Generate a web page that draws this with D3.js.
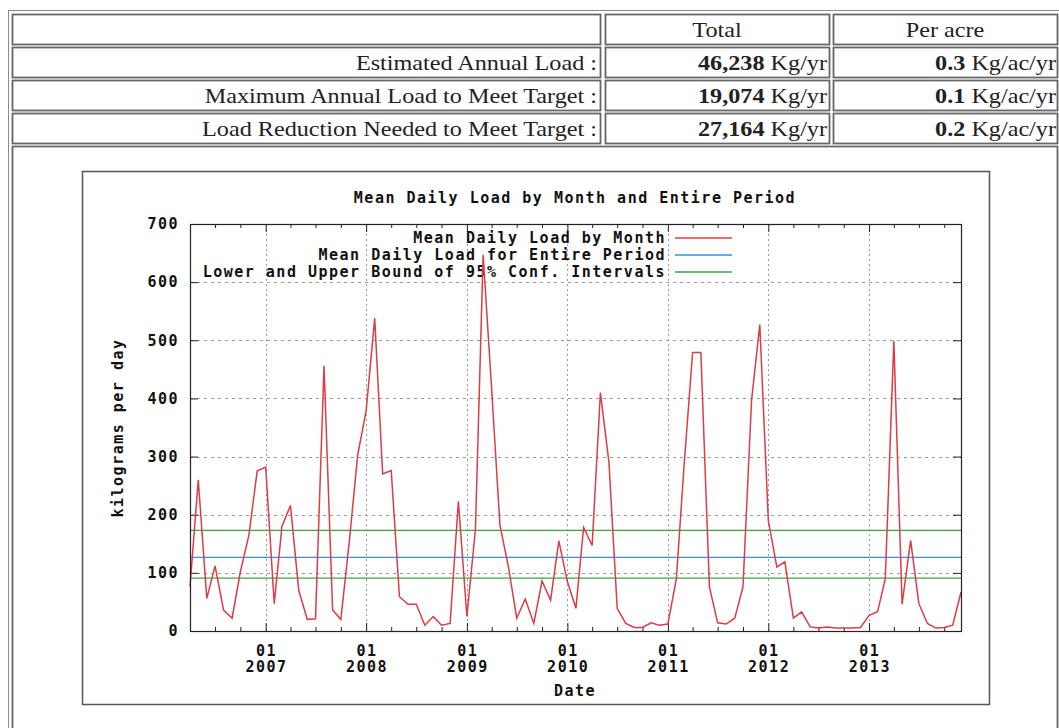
<!DOCTYPE html>
<html>
<head>
<meta charset="utf-8">
<script src="https://cdn.jsdelivr.net/npm/d3@7"></script>
<style>
  body { margin: 0; background: #fff; }
  svg { display: block; }
  .serif { font-family: "Liberation Serif", "Times New Roman", serif; font-size: 22px; fill: #222; }
  .gp { font-family: "DejaVu Sans Mono", monospace; font-weight: bold; font-size: 15px; letter-spacing: 1.5px; fill: #111; }
</style>
</head>
<body>
<svg id="page" width="1059" height="728"></svg>
<script>
// ---- Summary table ----
const headerCols = ["Total", "Per acre"];
const rowLabels = [
  "Estimated Annual Load :",
  "Maximum Annual Load to Meet Target :",
  "Load Reduction Needed to Meet Target :"
];
const totalValues = ["46,238", "19,074", "27,164"];
const totalUnit = "Kg/yr";
const perAcreValues = ["0.3", "0.1", "0.2"];
const perAcreUnit = "Kg/ac/yr";

// ---- Chart data: mean daily load (kg/day), monthly from April 2006 ----
const firstMonth = "2006-04";
const meanDailyLoad = [
  76, 260, 56, 112, 36, 22, 102, 165, 275,            // Apr-Dec 2006
  282, 47, 180, 216, 70, 20, 21, 456, 36, 20, 155, 302, // 2007
  379, 538, 270, 276, 59, 46, 46, 10, 25, 10, 13, 223,  // 2008
  25, 175, 647, 415, 182, 110, 22, 55, 13, 86, 53, 155, // 2009
  85, 39, 178, 147, 410, 290, 39, 13, 6, 6, 14, 10,     // 2010
  12, 90, 285, 479, 479, 76, 14, 12, 22, 76, 396, 527,  // 2011
  190, 110, 119, 22, 33, 7, 5, 7, 5, 5, 5, 6,           // 2012
  27, 33, 90, 499, 46, 156, 47, 13, 5, 6, 10, 67        // 2013
];
const periodMean = 126.7;
const confLower = 91;
const confUpper = 173;
const yTickValues = [0, 100, 200, 300, 400, 500, 600, 700];
const yearTicks = ["2007", "2008", "2009", "2010", "2011", "2012", "2013"];
const legendLabels = [
  "Mean Daily Load by Month",
  "Mean Daily Load for Entire Period",
  "Lower and Upper Bound of 95% Conf. Intervals"
];
const seriesColors = ["#dc3c46", "#3a8fd6", "#3aa83a"];
const chartTitle = "Mean Daily Load by Month and Entire Period";
const yTitle = "kilograms per day";
const xTitle = "Date";

const svg = d3.select("#page");

// ---- table frame ----
const cols = [[12, 600], [605, 829], [833, 1057]];
const rows = [[14, 44], [47, 77], [80, 110], [113, 143]];
const textStretch = 1.1;

svg.append("rect").attr("x", 8.5).attr("y", 10.5).attr("width", 1060).attr("height", 730)
  .attr("fill", "none").attr("stroke", "#8a8a8a").attr("stroke-width", 1);

const cellG = svg.append("g");
rows.forEach(r => cols.forEach(c => {
  cellG.append("rect").attr("x", c[0] + 0.5).attr("y", r[0] + 0.5)
    .attr("width", c[1] - c[0]).attr("height", r[1] - r[0])
    .attr("fill", "#fff").attr("stroke", "#666").attr("stroke-width", 1.8);
}));
// chart cell spanning all columns
cellG.append("rect").attr("x", 12.5).attr("y", 146.5).attr("width", 1045).attr("height", 600)
  .attr("fill", "#fff").attr("stroke", "#666").attr("stroke-width", 1.8);

const rowMid = r => (r[0] + r[1]) / 2;

function cellText(xPos, yPos, anchor) {
  return svg.append("g")
    .attr("transform", `translate(${xPos},${yPos}) scale(${textStretch},1)`)
    .append("text").attr("class", "serif").attr("dy", "0.35em").attr("text-anchor", anchor);
}

headerCols.forEach((h, i) => {
  cellText((cols[i + 1][0] + cols[i + 1][1]) / 2, rowMid(rows[0]), "middle").text(h);
});

rowLabels.forEach((lab, i) => {
  const r = rows[i + 1];
  cellText(cols[0][1] - 3, rowMid(r), "end").text(lab);
  const t1 = cellText(cols[1][1] - 2, rowMid(r), "end");
  t1.append("tspan").attr("font-weight", "bold").text(totalValues[i]);
  t1.append("tspan").text(" " + totalUnit);
  const t2 = cellText(cols[2][1] - 1, rowMid(r), "end");
  t2.append("tspan").attr("font-weight", "bold").text(perAcreValues[i]);
  t2.append("tspan").text(" " + perAcreUnit);
});

// ---- chart box ----
svg.append("rect").attr("x", 82.5).attr("y", 171.5).attr("width", 907).attr("height", 533)
  .attr("fill", "#fff").attr("stroke", "#555").attr("stroke-width", 1.5);

const plot = { left: 190, right: 961, top: 224, bottom: 631 };
const parseMonth = d3.timeParse("%Y-%m");
const start = parseMonth(firstMonth);
const points = meanDailyLoad.map((v, i) => ({ date: d3.timeMonth.offset(start, i), value: v }));

const x = d3.scaleTime()
  .domain([points[0].date, points[points.length - 1].date])
  .range([plot.left, plot.right]);
const y = d3.scaleLinear().domain([0, 700]).range([plot.bottom, plot.top]);

const g = svg.append("g");

// grid
const yearDates = yearTicks.map(yr => parseMonth(yr + "-01"));
g.append("g").selectAll("line").data(yTickValues.filter(v => v > 0 && v < 700)).join("line")
  .attr("x1", plot.left).attr("x2", plot.right)
  .attr("y1", d => Math.round(y(d)) + 0.5).attr("y2", d => Math.round(y(d)) + 0.5)
  .attr("stroke", "#9a9a9a").attr("stroke-width", 1).attr("stroke-dasharray", "3,4");
g.append("g").selectAll("line").data(yearDates).join("line")
  .attr("x1", d => Math.round(x(d)) + 0.5).attr("x2", d => Math.round(x(d)) + 0.5)
  .attr("y1", plot.top).attr("y2", plot.bottom)
  .attr("stroke", "#9a9a9a").attr("stroke-width", 1).attr("stroke-dasharray", "2,3");

// axes (ticks drawn inward, mirrored on opposite sides)
const quarterDates = d3.timeMonth.every(3).range(points[0].date, points[points.length - 1].date)
  .filter(d => d.getMonth() !== 0);
function tickAxis(axis, transform) {
  const a = g.append("g").attr("transform", transform).call(axis);
  a.select(".domain").remove();
  a.selectAll("line").attr("stroke", "#222");
  a.selectAll("text").remove();
  return a;
}
tickAxis(d3.axisBottom(x).tickValues(yearDates).tickSize(-8), `translate(0,${plot.bottom})`);
tickAxis(d3.axisBottom(x).tickValues(quarterDates).tickSize(-4), `translate(0,${plot.bottom})`);
tickAxis(d3.axisTop(x).tickValues(yearDates).tickSize(-8), `translate(0,${plot.top})`);
tickAxis(d3.axisTop(x).tickValues(quarterDates).tickSize(-4), `translate(0,${plot.top})`);
tickAxis(d3.axisLeft(y).tickValues(yTickValues).tickSize(-8), `translate(${plot.left},0)`);
tickAxis(d3.axisRight(y).tickValues(yTickValues).tickSize(-8), `translate(${plot.right},0)`);

// y tick labels
g.append("g").selectAll("text").data(yTickValues).join("text")
  .attr("class", "gp").attr("x", plot.left - 11).attr("y", d => y(d)).attr("dy", "0.35em")
  .attr("text-anchor", "end").text(d => d);

// x tick labels (two lines)
const xl = g.append("g").selectAll("text").data(yearDates).join("text")
  .attr("class", "gp").attr("text-anchor", "middle")
  .attr("transform", d => `translate(${x(d) + 0.8},0)`);
xl.append("tspan").attr("x", 0).attr("y", 656).text(d3.timeFormat("%m"));
xl.append("tspan").attr("x", 0).attr("y", 672).text(d3.timeFormat("%Y"));

// titles
svg.append("text").attr("class", "gp").attr("x", 575).attr("y", 203)
  .attr("text-anchor", "middle").text(chartTitle);
svg.append("text").attr("class", "gp").attr("x", 575).attr("y", 696)
  .attr("text-anchor", "middle").text(xTitle);
svg.append("text").attr("class", "gp")
  .attr("transform", "translate(123,428) rotate(-90)")
  .attr("text-anchor", "middle").text(yTitle);

// reference lines
const hl = [
  { v: periodMean, c: seriesColors[1] },
  { v: confLower, c: seriesColors[2] },
  { v: confUpper, c: seriesColors[2] }
];
g.append("g").selectAll("line").data(hl).join("line")
  .attr("x1", plot.left).attr("x2", plot.right)
  .attr("y1", d => y(d.v)).attr("y2", d => y(d.v))
  .attr("stroke", d => d.c).attr("stroke-width", 1.4);

// legend
const legend = g.append("g");
legendLabels.forEach((lab, i) => {
  const ly = 238 + i * 17;
  legend.append("text").attr("class", "gp").attr("x", 666).attr("y", ly).attr("dy", "0.35em")
    .attr("text-anchor", "end").text(lab);
  legend.append("line").attr("x1", 675).attr("x2", 732).attr("y1", ly).attr("y2", ly)
    .attr("stroke", seriesColors[i]).attr("stroke-width", 1.4);
});

// monthly series
g.append("path").datum(points)
  .attr("fill", "none").attr("stroke", seriesColors[0]).attr("stroke-width", 1.5)
  .attr("stroke-linejoin", "miter")
  .attr("d", d3.line().x(d => x(d.date)).y(d => y(d.value)));

// plot border
g.append("rect").attr("x", plot.left + 0.5).attr("y", plot.top + 0.5)
  .attr("width", plot.right - plot.left).attr("height", plot.bottom - plot.top)
  .attr("fill", "none").attr("stroke", "#222").attr("stroke-width", 1.2);
</script>
</body>
</html>
